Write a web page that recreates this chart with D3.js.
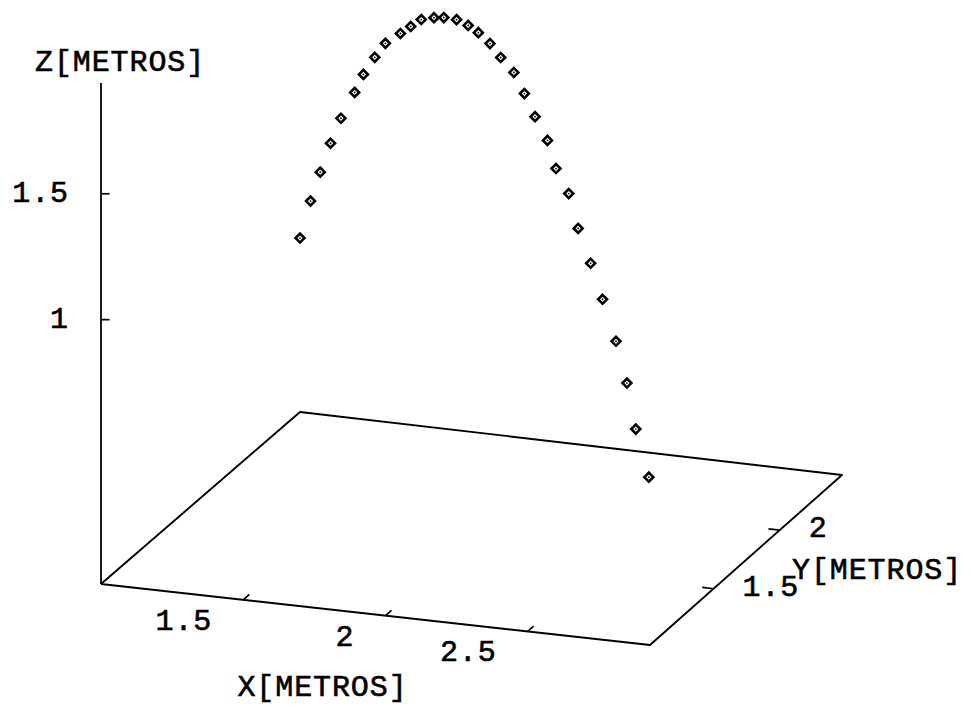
<!DOCTYPE html>
<html>
<head>
<meta charset="utf-8">
<script src="https://cdn.jsdelivr.net/npm/d3@7/dist/d3.min.js"></script>
<style>
  html, body { margin: 0; padding: 0; background: #fff; }
  svg { display: block; }
  text {
    font-family: "Courier New", "Liberation Mono", monospace;
    font-size: 30px; fill: #000; stroke: #000; stroke-width: 0.6px;
    letter-spacing: 0.9px;
  }
</style>
</head>
<body>
<svg id="chart" width="970" height="705"></svg>
<script>
// Ball trajectory, sampled positions in metres
const xs = [1.000, 1.059, 1.114, 1.171, 1.230, 1.307, 1.355, 1.419, 1.478, 1.561, 1.619,
            1.677, 1.748, 1.803, 1.873, 1.937, 1.993, 2.057, 2.116, 2.189, 2.246, 2.305,
            2.373, 2.419, 2.489, 2.540, 2.608, 2.673, 2.746, 2.805, 2.853, 2.924];
const ys = [2.470, 2.426, 2.384, 2.342, 2.297, 2.239, 2.204, 2.155, 2.111, 2.049, 2.005,
            1.962, 1.908, 1.866, 1.814, 1.766, 1.724, 1.676, 1.632, 1.576, 1.534, 1.489,
            1.438, 1.404, 1.351, 1.313, 1.262, 1.213, 1.158, 1.114, 1.078, 1.024];
const zs = [0.641, 0.816, 0.958, 1.100, 1.228, 1.368, 1.462, 1.561, 1.645, 1.724, 1.780,
            1.835, 1.877, 1.904, 1.929, 1.937, 1.935, 1.922, 1.895, 1.871, 1.814, 1.751,
            1.689, 1.599, 1.533, 1.419, 1.313, 1.201, 1.069, 0.931, 0.771, 0.614];

// Axis ranges and ticks
const xDomain = [1.0, 2.93];
const yDomain = [1.02, 2.47];
const zDomain = [-0.05, 1.94];
const xTicks = [1.5, 2, 2.5];
const yTicks = [1.5, 2];
const zTicks = [1, 1.5];
const xTitle = "X[METROS]";
const yTitle = "Y[METROS]";
const zTitle = "Z[METROS]";

const svg = d3.select("#chart");
svg.append("rect").attr("width", 970).attr("height", 705).attr("fill", "#fff");

// Normalised box coordinates
const sx = d3.scaleLinear().domain(xDomain).range([0, 1]);
const sy = d3.scaleLinear().domain(yDomain).range([0, 1]);
const sz = d3.scaleLinear().domain(zDomain).range([0, 501]);

// View of the floor of the bounding box (screen corners), z rises vertically
const view = {
  x0y0: [101, 584],
  x1y0: [650, 645],
  x0y1: [300, 412],
  x1y1: [842, 475]
};

function project(x, y, z) {
  const u = sx(x), v = sy(y);
  const a = (1 - u) * (1 - v), b = u * (1 - v), c = (1 - u) * v, d = u * v;
  const px = a * view.x0y0[0] + b * view.x1y0[0] + c * view.x0y1[0] + d * view.x1y1[0];
  const py = a * view.x0y0[1] + b * view.x1y0[1] + c * view.x0y1[1] + d * view.x1y1[1];
  return [px, py - sz(z)];
}

const [x0, x1] = xDomain, [y0, y1] = yDomain, [z0, z1] = zDomain;
const line = d3.line();

// Floor outline
svg.append("path")
  .attr("d", line([project(x0, y0, z0), project(x1, y0, z0), project(x1, y1, z0),
                   project(x0, y1, z0), project(x0, y0, z0)]))
  .attr("fill", "none").attr("stroke", "#000").attr("stroke-width", 1.9)
  .attr("stroke-linejoin", "round");

// Vertical axis
svg.append("path")
  .attr("d", line([project(x0, y0, z0), project(x0, y0, z1)]))
  .attr("fill", "none").attr("stroke", "#000").attr("stroke-width", 1.8);

const tickG = svg.append("g").attr("stroke", "#000").attr("stroke-width", 1.7).attr("fill", "none");

// X ticks along the front edge, pointing into the box
xTicks.forEach(t => {
  const p = project(t, y0, z0), q = project(t, y0 + 0.045, z0);
  tickG.append("path").attr("d", line([p, q]));
  svg.append("text").attr("x", p[0] - 31).attr("y", p[1] + 22)
    .attr("text-anchor", "end").attr("dominant-baseline", "central").text(d3.format("")(t));
});

// Y ticks along the right edge
yTicks.forEach(t => {
  const p = project(x1, t, z0), q = project(x1 - 0.04, t, z0);
  tickG.append("path").attr("d", line([p, q]));
  svg.append("text").attr("x", p[0] + 29).attr("y", p[1] - 1)
    .attr("text-anchor", "start").attr("dominant-baseline", "central").text(d3.format("")(t));
});

// Z ticks on the vertical axis
zTicks.forEach(t => {
  const p = project(x0, y0, t), q = project(x0 + 0.03, y0, t);
  tickG.append("path").attr("d", line([p, [q[0], p[1]]]));
  svg.append("text").attr("x", p[0] - 32).attr("y", p[1])
    .attr("text-anchor", "end").attr("dominant-baseline", "central").text(d3.format("")(t));
});

// Axis titles
const zTop = project(x0, y0, z1);
svg.append("text").attr("x", zTop[0] - 66).attr("y", zTop[1] - 20)
  .attr("dominant-baseline", "central").text(zTitle);
const xMid = project((x0 + x1) / 2, y0, z0);
svg.append("text").attr("x", xMid[0] - 53).attr("y", xMid[1] + 73)
  .attr("text-anchor", "middle").attr("dominant-baseline", "central").text(xTitle);
const yMid = project(x1, (y0 + y1) / 2, z0);
svg.append("text").attr("x", yMid[0] + 46).attr("y", yMid[1] + 11)
  .attr("dominant-baseline", "central").text(yTitle);

// Trajectory points
const pts = xs.map((x, i) => project(x, ys[i], zs[i]));
const diamond = d3.symbol().type(d3.symbolSquare).size(40);
const g = svg.append("g");
g.selectAll("path.pt").data(pts).join("path")
  .attr("class", "pt")
  .attr("d", diamond)
  .attr("transform", d => `translate(${d[0]},${d[1]}) rotate(45)`)
  .attr("fill", "#fff").attr("stroke", "#000").attr("stroke-width", 2.6);
g.selectAll("circle").data(pts).join("circle")
  .attr("cx", d => d[0]).attr("cy", d => d[1]).attr("r", 0.9).attr("fill", "#000");
</script>
</body>
</html>
